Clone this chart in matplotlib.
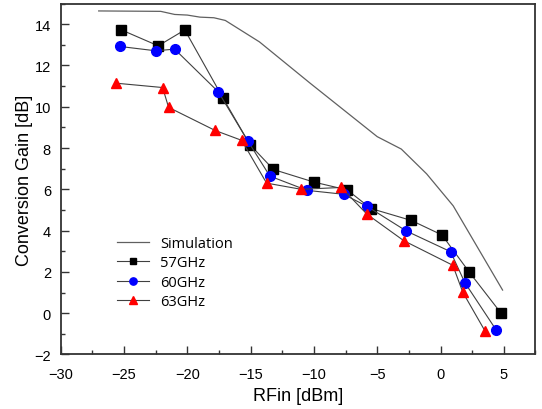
import numpy as np
import matplotlib.pyplot as plt
from matplotlib.ticker import MultipleLocator
plt.switch_backend('agg')
plt.rcParams['font.family'] = ['Liberation Sans', 'DejaVu Sans']

# Simulated conversion gain
sim_x = [-27.0, -22.1, -21.0, -20.0, -19.0, -17.9, -17.0, -14.3, -10.3, -5.0, -3.1, -1.1, 1.0, 4.9]
sim_y = [14.64, 14.62, 14.47, 14.44, 14.34, 14.31, 14.18, 13.14, 11.14, 8.55, 7.95, 6.75, 5.2, 1.12]

# Measured, 57 GHz
x57 = [-25.2, -22.3, -20.2, -17.2, -15.05, -13.2, -10.0, -7.37, -5.5, -2.3, 0.11, 2.28, 4.78]
y57 = [13.72, 12.95, 13.72, 10.44, 8.16, 6.96, 6.35, 5.97, 5.07, 4.49, 3.79, 1.98, 0.0]

# Measured, 60 GHz
x60 = [-25.33, -22.5, -21.0, -17.55, -15.23, -13.48, -10.55, -7.66, -5.82, -2.7, 0.79, 1.92, 4.38]
y60 = [12.92, 12.71, 12.79, 10.72, 8.35, 6.64, 5.95, 5.76, 5.18, 3.98, 2.98, 1.48, -0.8]

# Measured, 63 GHz
x63 = [-25.62, -21.95, -21.48, -17.8, -15.7, -13.74, -11.0, -7.84, -5.82, -2.9, 0.97, 1.76, 3.5]
y63 = [11.14, 10.93, 9.97, 8.85, 8.37, 6.3, 6.0, 6.09, 4.8, 3.51, 2.32, 1.01, -0.85]

fig = plt.figure(figsize=(5.42, 4.10), dpi=100)
ax = fig.add_axes([0.112, 0.133, 0.876, 0.856])

ax.plot(sim_x, sim_y, color='#606060', lw=0.9, label='Simulation')
ax.plot(x57, y57, color='#404040', lw=0.8, marker='s', ms=6.5, mfc='black', mec='black', label='57GHz')
ax.plot(x60, y60, color='#404040', lw=0.8, marker='o', ms=7, mfc='#0000ff', mec='#0000ff', label='60GHz')
ax.plot(x63, y63, color='#404040', lw=0.8, marker='^', ms=7.5, mfc='#ff0000', mec='#ff0000', label='63GHz')

ax.set_xlim(-30, 7.5)
ax.set_ylim(-2, 15)
ax.set_xticks(np.arange(-30, 6, 5))
ax.set_yticks(np.arange(-2, 15, 2))
ax.xaxis.set_minor_locator(MultipleLocator(2.5))
ax.yaxis.set_minor_locator(MultipleLocator(1))

ax.tick_params(which='both', direction='in', top=False, right=False, labelsize=10.5, color='#333333')
ax.tick_params(axis='x', which='major', pad=9)
ax.tick_params(axis='y', which='major', pad=7)
ax.tick_params(which='major', length=6, width=1)
ax.tick_params(which='minor', length=3, width=1)
for sp in ax.spines.values():
    sp.set_color('#333333')
    sp.set_linewidth(1.3)

ax.set_xlabel('RFin [dBm]', fontsize=13, labelpad=4)
ax.set_ylabel('Conversion Gain [dB]', fontsize=13, labelpad=1)

ax.legend(loc='upper left', bbox_to_anchor=(0.09, 0.375), frameon=False,
          handlelength=2.2, handletextpad=0.8, labelspacing=0.3, markerscale=0.75,
          prop={'family': 'Open Sans', 'size': 10.5})

fig.savefig('out.png', dpi=100)
plt.close()
